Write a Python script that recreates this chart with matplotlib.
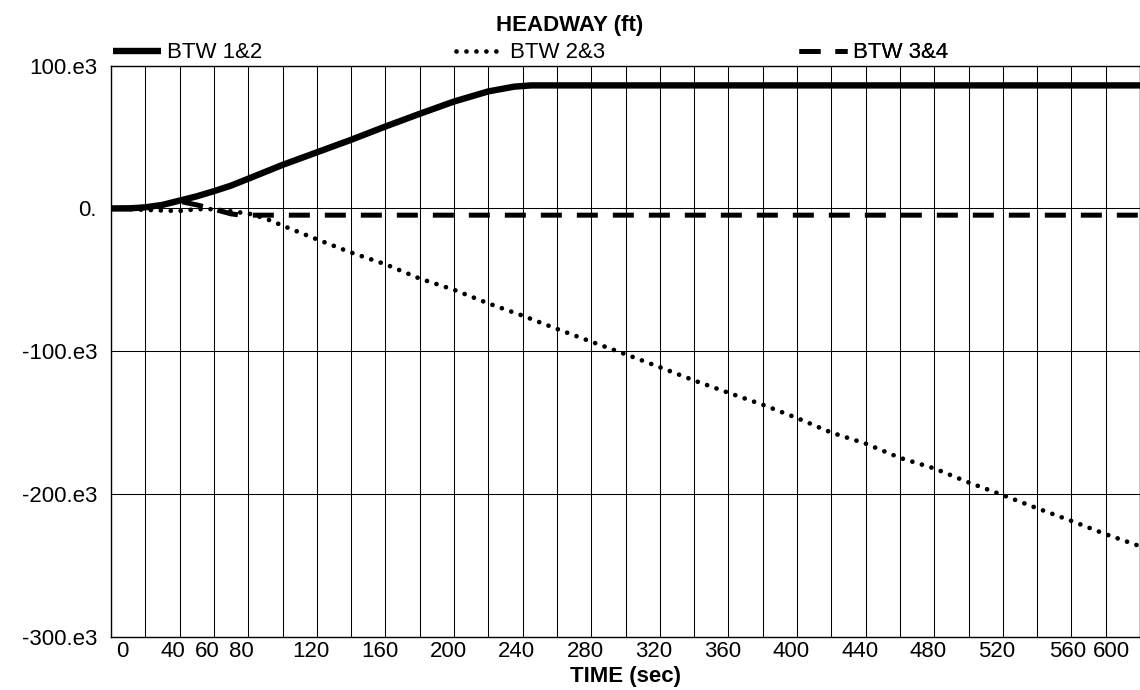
import matplotlib
matplotlib.use("Agg")
import matplotlib.pyplot as plt
import matplotlib.transforms as mtransforms
import numpy as np

# headway between trains (ft) vs time (sec)
time_12 = [0, 10, 20, 30, 40, 50, 60, 70, 80, 100, 120, 140, 160, 180, 200, 220, 235, 245, 600]
btw_12 = [0, 0, 800, 2500, 5500, 8500, 12100, 16000, 20800, 30500, 39300, 48100,
          57400, 66300, 74900, 82000, 85300, 86200, 86200]

time_23 = [0, 20, 40, 50, 60, 70, 80, 90, 100, 120, 140, 160, 180, 200, 220, 240, 260,
           280, 300, 320, 340, 360, 380, 400, 420, 440, 460, 480, 500, 520, 540, 560, 580, 600]
btw_23 = [0, -1000, -1800, -500, -500, -2000, -3500, -7000, -12000, -21600, -30900,
          -39100, -49100, -57000, -66500, -75100, -84400, -93300, -102100, -111200,
          -120500, -129100, -137500, -146800, -157000, -164700, -174700, -182100,
          -191900, -200800, -210000, -218900, -228200, -236600]

time_34 = [0, 20, 30, 40, 50, 60, 70, 76, 600]
btw_34 = [0, 800, 2500, 5000, 2500, -500, -3800, -4700, -4700]

labels = ["BTW 1&2", "BTW 2&3", "BTW 3&4"]

x_ticks = [0, 40, 60, 80, 120, 160, 200, 240, 280, 320, 360, 400, 440, 480, 520, 560, 600]
x_ticklabels = [str(t) for t in x_ticks]
y_ticks = [-300e3, -200e3, -100e3, 0, 100e3]
y_ticklabels = ["-300.e3", "-200.e3", "-100.e3", "0.", "100.e3"]

plt.rcParams['font.family'] = ['Liberation Sans', 'DejaVu Sans']
FS = 16

fig = plt.figure(figsize=(11.4, 6.9), dpi=100)
ax = fig.add_axes([111 / 1140, 1 - 636.7 / 690, 1 - 111 / 1140, (636.7 - 65.7) / 690])

l34, = ax.plot(time_34, btw_34, color='black', lw=3.6, linestyle=(0, (4.2, 3.0)),
               dash_capstyle='butt')
l23, = ax.plot(time_23, btw_23, color='black', lw=3.4, linestyle=(0, (0.01, 2.1)),
               dash_capstyle='round')
l12, = ax.plot(time_12, btw_12, color='black', lw=4.6, solid_capstyle='butt')

ax.set_xlim(0, 600)
ax.set_ylim(-300e3, 100e3)

ax.set_xticks(x_ticks, x_ticklabels, fontsize=FS)
ax.set_xticks(np.arange(0, 601, 20), minor=True)
ax.set_yticks(y_ticks, y_ticklabels, fontsize=FS)
ax.grid(True, which='both', axis='x', color='black', lw=0.75)
ax.grid(True, which='major', axis='y', color='black', lw=0.75)
ax.tick_params(which='both', length=0)
ax.tick_params(axis='y', pad=10)
ax.tick_params(axis='x', pad=3)

# the old plotter nudges its time labels a bit left, and squeezes the end ones inside
shifts = [11, -7, -7, -7, -6, -6, -6, -6, -6, -6, -6, -6, -6, -6, -6, -4, -29]
for lbl, dx in zip(ax.get_xticklabels(), shifts):
    lbl.set_transform(lbl.get_transform() + mtransforms.ScaledTranslation(dx / 100, 0, fig.dpi_scale_trans))

for sp in ax.spines.values():
    sp.set_linewidth(1.0)

for i, (line, lab) in enumerate(zip([l12, l23, l34], labels)):
    leg = ax.legend([line], [lab], loc='lower left', bbox_to_anchor=(i / 3, 1.0),
                    frameon=False, borderaxespad=0, borderpad=0.1, handlelength=2.15,
                    handletextpad=0.25, fontsize=FS)
    ax.add_artist(leg)

fig.suptitle('HEADWAY (ft)', x=0.5, y=1 - 26 / 690, va='center', fontweight='bold', fontsize=FS)
ax.set_xlabel('TIME (sec)', fontweight='bold', fontsize=FS, labelpad=3)

fig.savefig('out.png', dpi=100)
